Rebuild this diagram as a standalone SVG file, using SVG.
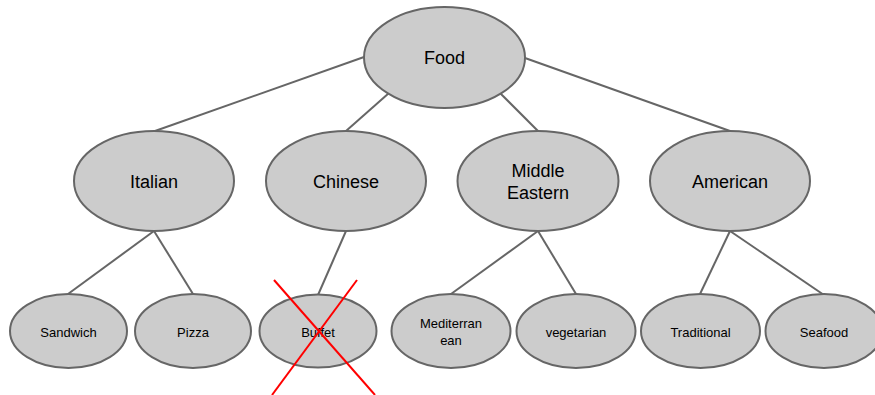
<svg xmlns="http://www.w3.org/2000/svg" width="875" height="395" viewBox="0 0 875 395">
<style>
.n ellipse{fill:#cccccc;stroke:#666666;stroke-width:2}
.n text{font-family:"Liberation Sans",Arial,sans-serif;fill:#000;text-anchor:middle;dominant-baseline:central}
.big text{font-size:18px}
.small text{font-size:13px}
#connectors line{stroke:#666666;stroke-width:2}
#cross line{stroke:#ff0000;stroke-width:2}
</style>
<rect width="875" height="395" fill="#ffffff"/>
<g id="connectors">
<line x1="364" y1="57" x2="155" y2="131"/>
<line x1="389" y1="93" x2="346" y2="131"/>
<line x1="500" y1="93" x2="538" y2="131"/>
<line x1="525" y1="58" x2="730" y2="131"/>
<line x1="154" y1="231" x2="68" y2="294"/>
<line x1="154" y1="231" x2="193" y2="294"/>
<line x1="346" y1="231" x2="318" y2="295"/>
<line x1="538" y1="231" x2="451" y2="294"/>
<line x1="538" y1="231" x2="576" y2="294"/>
<line x1="730" y1="231" x2="700" y2="294"/>
<line x1="730" y1="231" x2="824" y2="295"/>
</g>
<g id="food" class="n big"><ellipse cx="444.5" cy="57.5" rx="80.5" ry="50.5"/><text x="444.5" y="58">Food</text></g>
<g id="italian" class="n big"><ellipse cx="154" cy="181" rx="80" ry="50"/><text x="154" y="182">Italian</text></g>
<g id="chinese" class="n big"><ellipse cx="346" cy="181" rx="80" ry="50"/><text x="346" y="182">Chinese</text></g>
<g id="middle-eastern" class="n big"><ellipse cx="538" cy="181" rx="80.5" ry="50"/><text x="538" y="171">Middle</text><text x="538" y="193">Eastern</text></g>
<g id="american" class="n big"><ellipse cx="730" cy="181" rx="80" ry="50"/><text x="730" y="182">American</text></g>
<g id="sandwich" class="n small"><ellipse cx="68.5" cy="331" rx="58.5" ry="37"/><text x="68.5" y="332">Sandwich</text></g>
<g id="pizza" class="n small"><ellipse cx="193" cy="331" rx="58" ry="37"/><text x="193" y="332">Pizza</text></g>
<g id="buffet" class="n small"><ellipse cx="318" cy="331" rx="58.5" ry="36.5"/><text x="318" y="332">Buffet</text></g>
<g id="mediterranean" class="n small"><ellipse cx="451" cy="331" rx="59.5" ry="37"/><text x="451" y="323">Mediterran</text><text x="451" y="340">ean</text></g>
<g id="vegetarian" class="n small"><ellipse cx="576" cy="331" rx="59.5" ry="37"/><text x="576" y="332">vegetarian</text></g>
<g id="traditional" class="n small"><ellipse cx="700.5" cy="331" rx="59.5" ry="37"/><text x="700.5" y="332">Traditional</text></g>
<g id="seafood" class="n small"><ellipse cx="824" cy="331" rx="58.5" ry="37"/><text x="824" y="332">Seafood</text></g>
<g id="cross">
<line x1="274" y1="280" x2="375" y2="395"/>
<line x1="357" y1="280" x2="272" y2="395"/>
</g>
</svg>
